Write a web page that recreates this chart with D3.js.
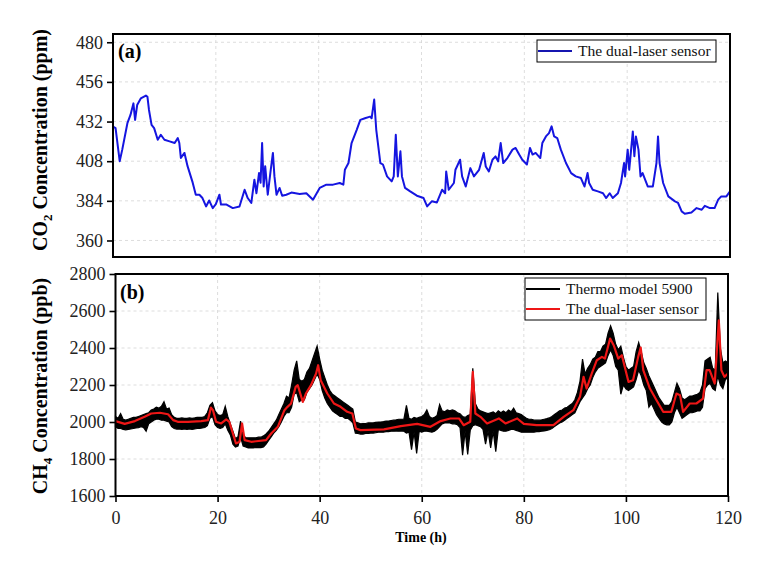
<!DOCTYPE html>
<html lang="en">
<head>
    <meta charset="UTF-8">
    <title>CO2 and CH4 time series</title>
    <script src="https://d3js.org/d3.v7.min.js"></script>
    <style>
        body { margin: 0; background: #fff; }
        text { font-family: "Liberation Serif", "Times New Roman", serif; }
    </style>
</head>
<body>
    <svg id="chart"></svg>

    <script>
        // ---- data ----
        // panel (a): CO2 from the dual-laser sensor, hours / ppm
        const co2Time = [0, 0.5, 1.3, 1.8, 2.8, 3.4, 3.97, 4.3, 4.7, 5.4, 6.4, 6.7, 7.0, 7.5, 8.0, 8.7, 9.3, 10.0, 11.0, 12.0, 12.6, 12.9, 13.2, 13.9, 14.5, 15.5, 16.1, 16.8, 17.4, 18.1, 18.7, 19.4, 20.0, 20.7, 21.0, 22.0, 23.3, 24.6, 25.6, 26.2, 26.9, 27.5, 27.9, 28.4, 28.7, 29.0, 29.3, 29.6, 30.1, 30.6, 31.1, 31.4, 31.8, 32.4, 32.9, 33.7, 34.7, 36.3, 37.6, 38.9, 40.2, 41.5, 42.8, 44.1, 44.8, 45.1, 45.8, 46.4, 47.4, 48.1, 49.0, 50.0, 50.3, 50.8, 51.2, 52.0, 52.5, 53.3, 54.2, 54.6, 55.0, 55.4, 55.9, 56.2, 56.8, 57.8, 59.1, 60.4, 61.1, 62.0, 63.0, 64.0, 64.6, 64.8, 65.3, 66.3, 66.6, 66.9, 67.5, 67.9, 68.6, 69.5, 70.2, 71.2, 72.1, 72.5, 73.1, 73.8, 74.4, 74.9, 75.4, 75.9, 76.7, 77.7, 78.3, 79.0, 79.6, 80.5, 81.1, 81.6, 82.2, 83.1, 83.5, 84.2, 84.8, 85.3, 85.8, 86.4, 87.1, 88.1, 89.1, 90.0, 91.0, 91.7, 92.3, 92.6, 93.3, 94.3, 95.3, 95.9, 96.6, 97.2, 98.2, 98.8, 99.4, 99.6, 100.1, 100.4, 101.1, 101.4, 101.7, 102.2, 102.6, 103.0, 104.0, 105.0, 105.7, 106.0, 106.3, 107.0, 108.0, 109.3, 109.9, 110.6, 111.2, 112.5, 113.5, 114.5, 115.1, 116.1, 117.0, 117.7, 118.3, 119.3, 120.0];
        const co2Value = [429, 428, 408, 415, 431, 436, 443, 433, 442, 446, 447.7, 447, 439, 430, 428, 421, 424, 421, 420, 419, 422, 419, 410, 413, 405, 395, 387.7, 387.7, 385.7, 380.6, 384.2, 379.6, 382, 387.7, 381.8, 381.8, 379.6, 380.6, 390.7, 385.7, 382.7, 396.8, 388.6, 400.8, 395, 419, 392.7, 405, 387.7, 400.8, 413, 398.8, 387.7, 391.8, 387.1, 387.7, 389, 388.2, 388.6, 384.7, 391.8, 393.8, 393.8, 394.8, 393.8, 402.8, 406.9, 419, 427, 433, 434, 435, 434, 445.3, 427, 406.9, 406, 398.8, 395.8, 398.8, 424, 398.8, 414, 398.8, 391.8, 389.7, 387.1, 385.7, 380.6, 383.7, 383, 390.7, 388.6, 401.8, 390.7, 394.8, 402.8, 404.8, 408.9, 398.8, 392.7, 403.8, 398.8, 402.8, 413, 404.8, 401.8, 408.9, 410.9, 407.9, 419, 406.9, 409.9, 415, 416, 412, 408.9, 406, 416, 412, 413, 409.9, 419, 423, 425, 429.1, 423, 422, 415, 406.9, 400.8, 398.8, 397.8, 392.7, 400.8, 394.8, 390.7, 389.7, 388.6, 385.7, 388.6, 385.7, 388.6, 394.8, 406.9, 398.8, 415, 402.8, 426, 411, 423, 415, 398.8, 400.8, 392.7, 392.7, 406.9, 423, 406.9, 394.8, 386.7, 383.7, 382.7, 377.6, 376.2, 377, 379.6, 378.6, 381, 379.6, 379.6, 384.7, 386.7, 386.7, 389.7];

        // panel (b): CH4 from the Thermo analyser; the trace is very dense, so it is
        // kept as the upper and lower edge of its band for every half hour (ppb)
        const thermoStep = 0.5;
        const thermoHigh = [
            2030, 2020, 2045, 2015, 2010, 2015, 2020, 2025, 2025, 2030, 2035, 2040, 2045, 2050, 2065, 2070, 2080, 2075, 2085, 2110,
            2070, 2075, 2040, 2025, 2020, 2020, 2022, 2020, 2020, 2022, 2020, 2022, 2025, 2025, 2025, 2030, 2050, 2090, 2105, 2060,
            2040, 2035, 2040, 2085, 2030, 1990, 1950, 1910, 1920, 2005, 1930, 1915, 1915, 1915, 1915, 1915, 1918, 1918, 1925, 1935,
            1950, 1970, 1990, 2010, 2040, 2070, 2100, 2140, 2130, 2200, 2280, 2330, 2230, 2220, 2230, 2270, 2290, 2330, 2370, 2410,
            2340, 2280, 2240, 2200, 2170, 2150, 2140, 2130, 2120, 2110, 2100, 2090, 2080, 2070, 2000, 1995, 1990, 1992, 1992, 1995,
            1995, 1995, 1998, 2000, 2000, 2002, 2005, 2005, 2008, 2010, 2012, 2015, 2015, 2015, 2090, 2020, 2015, 2025, 2020, 2025,
            2030, 2040, 2065, 2030, 2020, 2025, 2035, 2095, 2060, 2055, 2065, 2060, 2065, 2060, 2050, 2045, 2030, 2025, 2035, 2040,
            2290, 2100, 2070, 2060, 2055, 2050, 2045, 2050, 2055, 2045, 2060, 2050, 2060, 2050, 2065, 2055, 2075, 2050, 2045, 2040,
            2030, 2020, 2015, 2015, 2010, 2010, 2010, 2012, 2015, 2018, 2022, 2030, 2040, 2050, 2060, 2065, 2075, 2080, 2090, 2100,
            2120, 2160, 2220, 2340, 2260, 2290, 2310, 2340, 2350, 2380, 2380, 2410, 2420, 2480, 2520, 2480, 2420, 2390, 2410, 2350,
            2300, 2280, 2290, 2300, 2380, 2430, 2380, 2320, 2290, 2250, 2220, 2190, 2160, 2130, 2110, 2090, 2090, 2090, 2110, 2160,
            2210, 2180, 2130, 2120, 2130, 2140, 2140, 2145, 2150, 2160, 2200, 2330, 2340, 2350, 2290, 2280, 2700, 2400, 2320, 2330,
            2320
        ];
        const thermoLow = [
            1975, 1965, 1965, 1960, 1958, 1960, 1962, 1965, 1968, 1970, 1975, 1970, 1950, 1990, 2000, 2010, 2015, 2015, 2010, 2010,
            2005, 2000, 1975, 1965, 1962, 1962, 1960, 1962, 1960, 1962, 1960, 1962, 1965, 1965, 1968, 1970, 1980, 2020, 2030, 1985,
            1970, 1965, 1970, 1990, 1955, 1930, 1880, 1865, 1870, 1920, 1870, 1865, 1860, 1860, 1860, 1862, 1862, 1862, 1865, 1880,
            1900, 1920, 1940, 1955, 1975, 2000, 2030, 2050, 2050, 2080, 2150, 2160, 2110, 2120, 2120, 2160, 2180, 2200, 2230, 2260,
            2230, 2170, 2130, 2100, 2080, 2060, 2050, 2040, 2030, 2030, 2020, 2020, 2010, 1995, 1940, 1938, 1935, 1935, 1938, 1938,
            1940, 1940, 1942, 1945, 1945, 1945, 1948, 1948, 1950, 1950, 1952, 1950, 1952, 1950, 1940, 1945, 1850, 1945, 1830, 1950,
            1945, 1950, 1950, 1948, 1945, 1950, 1960, 1975, 1990, 1995, 1995, 1995, 1990, 1990, 1985, 1970, 1820, 1950, 1825, 1955,
            1980, 1985, 1980, 1975, 1960, 1880, 1950, 1860, 1950, 1840, 1960, 1955, 1950, 1950, 1955, 1960, 1960, 1955, 1950, 1945,
            1945, 1945, 1945, 1945, 1945, 1948, 1948, 1950, 1952, 1955, 1958, 1965, 1975, 1985, 1995, 2000, 2010, 2020, 2030, 2040,
            2050, 2080, 2110, 2130, 2150, 2180, 2200, 2240, 2270, 2290, 2300, 2310, 2320, 2360, 2390, 2360, 2300, 2280, 2150, 2200,
            2180, 2170, 2180, 2190, 2230, 2280, 2250, 2200, 2170, 2080, 2100, 2070, 2040, 2020, 2000, 1990, 1985, 1985, 2000, 2050,
            2080, 2050, 2020, 2030, 2040, 2050, 2050, 2055, 2060, 2060, 2080, 2180, 2200, 2210, 2180, 2170, 2250, 2200, 2180, 2230,
            2240
        ];

        // panel (b): CH4 from the dual-laser sensor
        const sensorTime = [0, 1.8, 3.8, 5.7, 7.0, 8.7, 10.3, 11.3, 12.2, 14.2, 16.8, 18.1, 18.7, 19.1, 19.7, 20.7, 21.7, 22.3, 23.0, 23.6, 24.3, 24.8, 25.3, 26.6, 29.5, 30.5, 31.8, 33.1, 33.7, 34.4, 35.3, 35.7, 36.7, 37.3, 38.3, 39.3, 39.7, 40.2, 41.5, 42.8, 44.1, 45.4, 46.4, 47.1, 48.0, 52.6, 55.9, 59.1, 61.7, 63.7, 65.6, 67.3, 68.2, 69.5, 70.0, 70.5, 71.5, 72.8, 75.1, 76.4, 78.7, 80.0, 82.5, 85.8, 87.8, 89.7, 91.0, 91.7, 92.3, 93.3, 94.3, 95.3, 95.9, 96.9, 97.6, 98.5, 99.2, 100.5, 101.4, 102.4, 102.9, 103.4, 104.7, 106.0, 107.3, 108.9, 109.9, 110.6, 111.2, 112.5, 113.8, 115.1, 115.8, 116.4, 117.4, 118.2, 118.7, 119.3, 120.0];
        const sensorValue = [2005, 1990, 2005, 2028, 2046, 2050, 2042, 2010, 2001, 2001, 2005, 2010, 2078, 2064, 2001, 1992, 2014, 2001, 1938, 1884, 1893, 1992, 1902, 1893, 1902, 1938, 1974, 2064, 2082, 2100, 2190, 2199, 2109, 2154, 2199, 2262, 2307, 2226, 2154, 2100, 2082, 2055, 2046, 1965, 1956, 1960, 1978, 1990, 1974, 2005, 2019, 2019, 1983, 2001, 2271, 2046, 2028, 1992, 2019, 1992, 2019, 1990, 1983, 1983, 2028, 2064, 2136, 2244, 2181, 2262, 2334, 2352, 2343, 2451, 2415, 2343, 2361, 2217, 2226, 2352, 2402, 2280, 2181, 2118, 2055, 2055, 2154, 2145, 2055, 2100, 2100, 2127, 2280, 2280, 2208, 2550, 2280, 2244, 2262];

        const xTicks = [0, 20, 40, 60, 80, 100, 120];
        const co2Ticks = [360, 384, 408, 432, 456, 480];
        const ch4Ticks = [1600, 1800, 2000, 2200, 2400, 2600, 2800];

        // ---- layout ----
        const width = 777, height = 562;
        const serif = '"Liberation Serif", "Times New Roman", serif';
        const panelA = { left: 113, right: 730, top: 34, bottom: 257 };
        const panelB = { left: 115.5, right: 728, top: 274, bottom: 496 };

        const svg = d3.select("#chart")
            .attr("width", width)
            .attr("height", height);

        // draws grid, curves, frame and axes for one panel
        function drawPanel(p, yDomain, yTicks, drawMarks, showXLabels) {
            const x = d3.scaleLinear().domain([0, 120]).range([p.left, p.right]);
            const y = d3.scaleLinear().domain(yDomain).range([p.bottom, p.top]);
            const g = svg.append("g");

            // dashed grid
            g.selectAll(".vg").data(xTicks.slice(1, -1)).join("line")
                .attr("x1", d => x(d)).attr("x2", d => x(d))
                .attr("y1", p.top).attr("y2", p.bottom)
                .attr("stroke", "#d4d4d4").attr("stroke-width", 0.8)
                .attr("stroke-dasharray", "3,3");
            g.selectAll(".hg").data(yTicks.filter(d => y(d) > p.top + 1 && y(d) < p.bottom - 1)).join("line")
                .attr("x1", p.left).attr("x2", p.right)
                .attr("y1", d => y(d)).attr("y2", d => y(d))
                .attr("stroke", "#d4d4d4").attr("stroke-width", 0.8)
                .attr("stroke-dasharray", "3,3");

            drawMarks(g, x, y);

            // frame
            g.append("rect")
                .attr("x", p.left).attr("y", p.top)
                .attr("width", p.right - p.left).attr("height", p.bottom - p.top)
                .attr("fill", "none").attr("stroke", "#000").attr("stroke-width", 2);

            // y axis
            const yAxis = d3.axisLeft(y).tickValues(yTicks).tickFormat(d3.format("d"))
                .tickSize(6).tickPadding(4);
            const ya = g.append("g").attr("transform", `translate(${p.left},0)`).call(yAxis)
                .attr("font-family", serif);
            ya.select(".domain").remove();
            ya.selectAll(".tick line").attr("stroke-width", 1.6);
            ya.selectAll("text").attr("font-size", 18).attr("fill", "#222");

            if (showXLabels) {
                const xAxis = d3.axisBottom(x).tickValues(xTicks).tickFormat(d3.format("d"))
                    .tickSize(6).tickPadding(9);
                const xa = g.append("g").attr("transform", `translate(0,${p.bottom})`).call(xAxis)
                    .attr("font-family", serif);
                xa.select(".domain").remove();
                xa.selectAll(".tick line").attr("stroke-width", 1.6);
                xa.selectAll("text").attr("font-size", 18).attr("fill", "#222");
            }
        }

        // (a) CO2
        drawPanel(panelA, [350, 485], co2Ticks, (g, x, y) => {
            const line = d3.line().x((d, i) => x(co2Time[i])).y(d => y(d));
            g.append("path")
                .datum(co2Value)
                .attr("d", line)
                .attr("fill", "none")
                .attr("stroke", "#1515e0")
                .attr("stroke-width", 2)
                .attr("stroke-linejoin", "round");
        }, false);

        // (b) CH4
        drawPanel(panelB, [1600, 2800], ch4Ticks, (g, x, y) => {
            const band = d3.area()
                .x((d, i) => x(i * thermoStep))
                .y0((d, i) => y(thermoLow[i]))
                .y1(d => y(d));
            g.append("path")
                .datum(thermoHigh)
                .attr("d", band)
                .attr("fill", "#000")
                .attr("stroke", "#000")
                .attr("stroke-width", 1.2)
                .attr("stroke-linejoin", "miter");

            const line = d3.line().x((d, i) => x(sensorTime[i])).y(d => y(d));
            g.append("path")
                .datum(sensorValue)
                .attr("d", line)
                .attr("fill", "none")
                .attr("stroke", "#ee1616")
                .attr("stroke-width", 2.2)
                .attr("stroke-linejoin", "round");
        }, true);

        // panel letters
        svg.append("text").attr("x", 118).attr("y", 58)
            .attr("font-size", 20).attr("font-weight", "bold").text("(a)");
        svg.append("text").attr("x", 120).attr("y", 299)
            .attr("font-size", 20).attr("font-weight", "bold").text("(b)");

        // y titles with subscripts
        function yTitle(cx, cy, chem, sub, unit) {
            const t = svg.append("text")
                .attr("transform", `translate(${cx},${cy}) rotate(-90)`)
                .attr("text-anchor", "middle")
                .attr("font-size", 20).attr("font-weight", "bold");
            t.append("tspan").text(chem);
            t.append("tspan").attr("font-size", 13).attr("dy", 5).text(sub);
            t.append("tspan").attr("dy", -5).text(" Concentration (" + unit + ")");
        }
        yTitle(47, 140, "CO", "2", "ppm");
        yTitle(47, 386, "CH", "4", "ppb");

        svg.append("text").attr("x", 421).attr("y", 542)
            .attr("text-anchor", "middle").attr("font-size", 14).attr("font-weight", "bold")
            .text("Time (h)");

        // legends
        function legend(x0, y0, w, items) {
            const rowH = 20;
            svg.append("rect").attr("x", x0).attr("y", y0)
                .attr("width", w).attr("height", items.length * rowH + 2)
                .attr("fill", "#fff").attr("stroke", "#000").attr("stroke-width", 1);
            items.forEach((it, i) => {
                const cy = y0 + 11 + i * rowH;
                svg.append("line").attr("x1", x0 + 1).attr("x2", x0 + 35)
                    .attr("y1", cy).attr("y2", cy)
                    .attr("stroke", it.color).attr("stroke-width", 2);
                svg.append("text").attr("x", x0 + 41).attr("y", cy + 5)
                    .attr("font-size", 15.5).attr("fill", "#111").text(it.label);
            });
        }
        legend(537, 40, 179, [{ label: "The dual-laser sensor", color: "#1515b0" }]);
        legend(525, 278, 181, [
            { label: "Thermo model 5900", color: "#000" },
            { label: "The dual-laser sensor", color: "#ee1616" }
        ]);
    </script>
</body>
</html>
